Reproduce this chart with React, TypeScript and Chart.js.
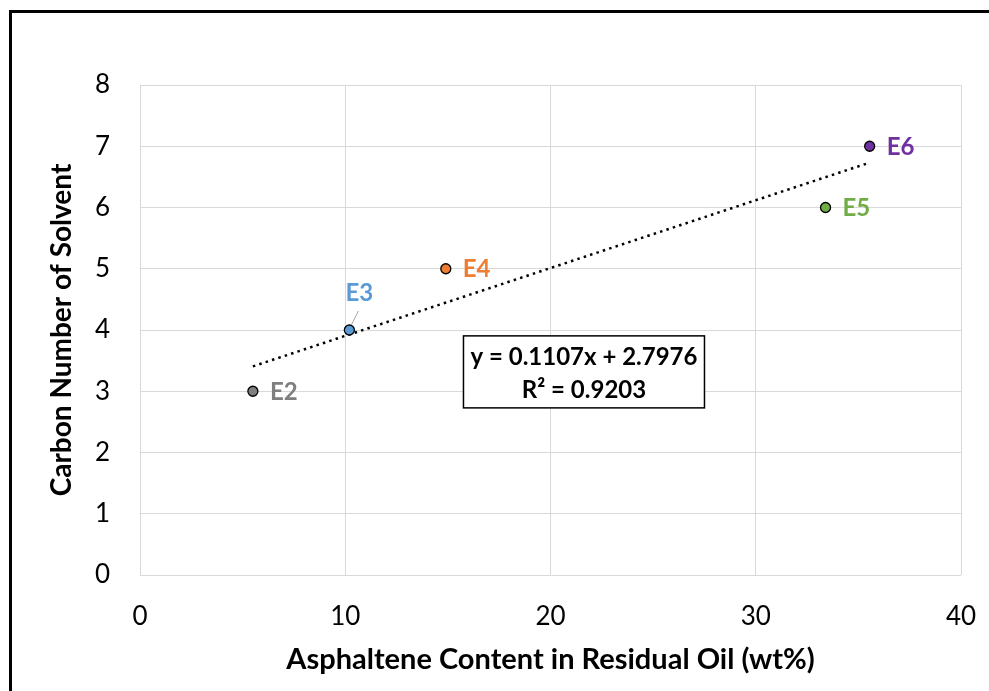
import React, { useEffect, useRef } from 'react';
import { Chart, registerables } from 'chart.js';

Chart.register(...registerables);

const pointLabels = ['E2', 'E3', 'E4', 'E5', 'E6'];
const asphalteneWt = [5.5, 10.2, 14.9, 33.4, 35.55];
const carbonNumber = [3, 4, 5, 6, 7];
const pointColors = ['#7f7f7f', '#5b9bd5', '#ed7d31', '#70ad47', '#7030a0'];
const labelColors = ['#7f7f7f', '#5b9bd5', '#ed7d31', '#70ad47', '#7030a0'];
const labelPlacement = ['right', 'above', 'right', 'right', 'right'];
const trendSlope = 0.1107;
const trendIntercept = 2.7976;
const trendR2 = 0.9203;
const xTitle = 'Asphaltene Content in Residual Oil (wt%)';
const yTitle = 'Carbon Number of Solvent';

const FONT = 'Lato, "Open Sans", sans-serif';

const decorPlugin = {
  id: 'decor',
  beforeDraw(chart: any) {
    const ctx = chart.ctx;
    ctx.save();
    ctx.fillStyle = '#ffffff';
    ctx.fillRect(0, 0, chart.width, chart.height);
    ctx.strokeStyle = '#000000';
    ctx.lineWidth = 3;
    ctx.strokeRect(10.5, 11.5, 1100, 1000);
    ctx.restore();
  },
  afterDatasetsDraw(chart: any) {
    const ctx = chart.ctx;
    const xs = chart.scales.x;
    const ys = chart.scales.y;
    ctx.save();
    ctx.font = `bold 24px ${FONT}`;
    ctx.textBaseline = 'middle';
    pointLabels.forEach((lab, i) => {
      const px = xs.getPixelForValue(asphalteneWt[i]);
      const py = ys.getPixelForValue(carbonNumber[i]);
      ctx.fillStyle = labelColors[i];
      if (labelPlacement[i] === 'above') {
        ctx.textAlign = 'center';
        ctx.fillText(lab, px + 10, py - 37);
        ctx.strokeStyle = '#a6a6a6';
        ctx.lineWidth = 1;
        ctx.beginPath();
        ctx.moveTo(px + 9, py - 19);
        ctx.lineTo(px + 2, py - 5);
        ctx.stroke();
      } else {
        ctx.textAlign = 'left';
        ctx.fillText(lab, px + 17, py + 1);
      }
    });
    // equation box
    const a = chart.chartArea;
    const bx = a.left + (a.right - a.left) * 0.394;
    const by = a.top + (a.bottom - a.top) * 0.512;
    const bw = 241;
    const bh = 72;
    ctx.fillStyle = '#ffffff';
    ctx.fillRect(bx, by, bw, bh);
    ctx.strokeStyle = '#000000';
    ctx.lineWidth = 1.5;
    ctx.strokeRect(bx, by, bw, bh);
    ctx.fillStyle = '#000000';
    ctx.textAlign = 'center';
    ctx.font = `bold 24px ${FONT}`;
    ctx.fillText(`y = ${trendSlope}x + ${trendIntercept}`, bx + bw / 2, by + 21);
    ctx.fillText(`R² = ${trendR2}`, bx + bw / 2, by + 54);
    ctx.restore();
  },
};

export default function App() {
  const ref = useRef<HTMLCanvasElement>(null);
  useEffect(() => {
    if (!ref.current) return;
    const xMin = Math.min(...asphalteneWt);
    const xMax = Math.max(...asphalteneWt);
    const chart = new Chart(ref.current, {
      type: 'scatter',
      data: {
        datasets: [
          {
            label: 'points',
            data: asphalteneWt.map((x, i) => ({ x, y: carbonNumber[i] })),
            backgroundColor: pointColors,
            borderColor: '#000000',
            borderWidth: 1.3,
            pointRadius: 5,
            showLine: false,
          },
          {
            label: 'trend',
            type: 'line',
            data: [
              { x: xMin, y: trendSlope * xMin + trendIntercept },
              { x: xMax, y: trendSlope * xMax + trendIntercept },
            ],
            borderColor: '#000000',
            borderWidth: 2.5,
            borderDash: [2.5, 4.2],
            pointRadius: 0,
            fill: false,
          } as any,
        ],
      },
      options: {
        animation: false,
        responsive: true,
        maintainAspectRatio: false,
        layout: { padding: { left: 0, top: 85, right: 28, bottom: 0 } },
        plugins: { legend: { display: false }, tooltip: { enabled: false } },
        scales: {
          x: {
            type: 'linear',
            min: 0,
            max: 40,
            ticks: { stepSize: 10, padding: 26, color: '#000000', font: { family: FONT, size: 26 } },
            grid: { color: '#d9d9d9', lineWidth: 1, drawTicks: false },
            border: { display: false },
            title: {
              display: true,
              text: xTitle,
              color: '#000000',
              font: { family: FONT, size: 29, weight: 'bold' },
              padding: { top: 0, bottom: 14 },
            },
            afterFit(scale: any) {
              scale.height = 116;
              scale.paddingLeft = 0;
              scale.paddingRight = 0;
            },
          },
          y: {
            type: 'linear',
            min: 0,
            max: 8,
            ticks: { stepSize: 1, padding: 30, color: '#000000', font: { family: FONT, size: 26 } },
            grid: { color: '#d9d9d9', lineWidth: 1, drawTicks: false },
            border: { display: false },
            title: {
              display: true,
              text: yTitle,
              color: '#000000',
              font: { family: FONT, size: 28, weight: 'bold' },
              padding: { top: 45, bottom: 0 },
            },
            afterFit(scale: any) {
              scale.width = 140;
              scale.paddingTop = 0;
              scale.paddingBottom = 0;
            },
          },
        },
      } as any,
      plugins: [decorPlugin],
    });
    return () => chart.destroy();
  }, []);
  return (
    <div style={{ position: 'absolute', left: 0, top: 0, width: 989, height: 691, background: '#fff', overflow: 'hidden' }}>
      <canvas ref={ref} />
    </div>
  );
}
